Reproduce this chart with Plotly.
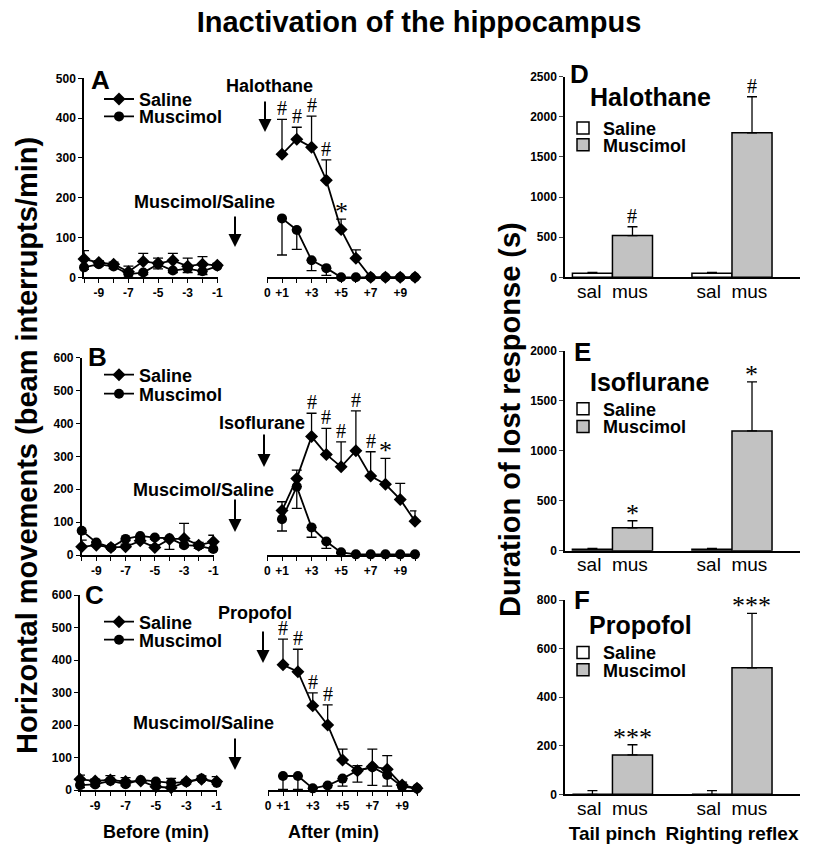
import plotly.graph_objects as go

W, H = 826, 845
FONT = "Liberation Sans"
SERIF = "Liberation Serif"

# ---------------- data ----------------
before_x = [-10, -9, -8, -7, -6, -5, -4, -3, -2, -1]
after_x = [1, 2, 3, 4, 5, 6, 7, 8, 9, 10]
before_ticktext = ["", "-9", "", "-7", "", "-5", "", "-3", "", "-1"]
after_tickvals = [0, 1, 2, 3, 4, 5, 6, 7, 8, 9, 10]
after_ticktext = ["0", "+1", "", "+3", "", "+5", "", "+7", "", "+9", ""]

# Panel A (halothane)
A_sal_before = [46, 37, 33, 14, 40, 35, 42, 28, 33, 30]
A_sal_before_err = [21, 5, 5, 14, 20, 13, 18, 20, 19, 5]
A_mus_before = [25, 33, 27, 8, 12, 33, 17, 22, 15, 28]
A_mus_before_err = [5, 5, 5, 8, 5, 12, 5, 10, 8, 5]
A_sal_after = [309, 347, 327, 244, 120, 48, 0, 0, 0, 0]
A_sal_after_err = [88, 30, 78, 51, 26, 21, 0, 0, 0, 0]
A_mus_after = [148, 119, 43, 23, 0, 0, 0, 0, 0, 0]
A_mus_after_err = [92, 49, 26, 18, 0, 0, 0, 0, 0, 0]
A_sig = ["#", "#", "#", "#", "*", "", "", "", "", ""]

# Panel B (isoflurane)
B_sal_before = [25, 30, 23, 25, 43, 23, 48, 50, 30, 40]
B_sal_before_err = [20, 10, 5, 8, 8, 8, 5, 46, 8, 20]
B_mus_before = [74, 38, 23, 49, 58, 53, 51, 30, 28, 18]
B_mus_before_err = [5, 10, 5, 5, 5, 5, 34, 5, 8, 5]
B_sal_after = [135, 233, 360, 306, 268, 317, 240, 215, 169, 103]
B_sal_after_err = [27, 25, 71, 79, 76, 121, 74, 79, 49, 31]
B_mus_after = [109, 208, 84, 41, 8, 2, 2, 2, 2, 2]
B_mus_after_err = [36, 66, 30, 21, 3, 0, 0, 0, 0, 0]
B_sig = ["", "", "#", "#", "#", "#", "#", "*", "", ""]

# Panel C (propofol)
C_sal_before = [33, 28, 31, 26, 28, 10, 7, 26, 33, 26]
C_sal_before_err = [13, 5, 13, 12, 5, 5, 29, 5, 10, 15]
C_mus_before = [15, 17, 28, 18, 31, 26, 22, 24, 35, 22]
C_mus_before_err = [8, 5, 5, 5, 5, 5, 10, 5, 5, 5]
C_sal_after = [385, 364, 259, 200, 92, 59, 72, 64, 15, 5]
C_sal_after_err = [79, 69, 40, 62, 34, 16, 54, 42, 9, 0]
C_mus_after = [43, 43, 5, 14, 35, 60, 70, 46, 10, 5]
C_mus_after_err = [41, 41, 0, 0, 23, 36, 56, 34, 0, 0]
C_sig = ["#", "#", "#", "#", "", "", "", "", "", ""]

# Bar panels (duration of lost response, s)
groups = ["Tail pinch", "Righting reflex"]
D_sal = [50, 50]
D_sal_err = [10, 10]
D_mus = [520, 1800]
D_mus_err = [110, 450]
D_sig = ["#", "#"]
E_sal = [15, 15]
E_sal_err = [8, 8]
E_mus = [230, 1200]
E_mus_err = [70, 490]
E_sig = ["*", "*"]
F_sal = [0, 0]
F_sal_err = [15, 15]
F_mus = [162, 521]
F_mus_err = [42, 224]
F_sig = ["***", "***"]

# ---------------- helpers ----------------
def px(p):
    return p / W


def py(p):
    return 1 - p / H


def tref(kind, i):
    return kind if i == 1 else f"{kind}{i}"


def lref(kind, i):
    return f"{kind}axis" if i == 1 else f"{kind}axis{i}"


def legname(i):
    return "legend" if i == 1 else f"legend{i}"


fig = go.Figure()
layout = dict(annotations=[])
ann = layout["annotations"]

BOLD = dict(family=FONT, color="black", weight="bold")


def label(xp, yp, text, size, **kw):
    d = dict(x=px(xp), y=py(yp), xref="paper", yref="paper", text=text, showarrow=False,
             xanchor="center", yanchor="middle", font=dict(size=size, **BOLD))
    d.update(kw)
    ann.append(d)


line_panels = [
    dict(letter="A", drug="Halothane", ymax=500,
         sb=A_sal_before, sbe=A_sal_before_err, mb=A_mus_before, mbe=A_mus_before_err,
         sa=A_sal_after, sae=A_sal_after_err, ma=A_mus_after, mae=A_mus_after_err, sig=A_sig),
    dict(letter="B", drug="Isoflurane", ymax=600,
         sb=B_sal_before, sbe=B_sal_before_err, mb=B_mus_before, mbe=B_mus_before_err,
         sa=B_sal_after, sae=B_sal_after_err, ma=B_mus_after, mae=B_mus_after_err, sig=B_sig),
    dict(letter="C", drug="Propofol", ymax=600,
         sb=C_sal_before, sbe=C_sal_before_err, mb=C_mus_before, mbe=C_mus_before_err,
         sa=C_sal_after, sae=C_sal_after_err, ma=C_mus_after, mae=C_mus_after_err, sig=C_sig),
]

# pixel geometry (style only)
line_geom = [
    dict(y0=277.3, ytop=78.3, bl=84, bm1=217.3, a1=282, a10=415,
         letter=(100, 80), drug=(269, 86), drug_arrow=(265, 100, 132),
         ms=(204, 202), ms_arrow=(235, 215, 247), leg=(99.3, 116.7)),
    dict(y0=555, ytop=357.7, bl=81.7, bm1=213.3, a1=282, a10=415,
         letter=(97, 357), drug=(262, 423), drug_arrow=(264, 433, 467),
         ms=(203, 490), ms_arrow=(235, 498, 532), leg=(375, 394)),
    dict(y0=790, ytop=595, bl=80, bm1=216.7, a1=283, a10=417,
         letter=(94, 595), drug=(255, 613), drug_arrow=(263, 630, 663),
         ms=(203, 723), ms_arrow=(235, 737, 770), leg=(622, 640)),
]

LEG_TEXT_X = 139
LEG_OFFSET = 40


def err(arr, up=True):
    zeros = [0] * len(arr)
    return dict(type="data", symmetric=False,
                array=arr if up else zeros,
                arrayminus=zeros if up else arr,
                color="black", thickness=1.3, width=5)


def sigfont(s):
    return dict(family=SERIF, size=(20 if s == "#" else 26), color="black")


for k, (p, g) in enumerate(zip(line_panels, line_geom)):
    xb, xa, yi = 2 * k + 1, 2 * k + 2, k + 1
    lsal, lmus = 2 * k + 1, 2 * k + 2
    common = dict(mode="lines+markers", line=dict(color="black", width=1.8),
                  cliponaxis=False, yaxis=tref("y", yi))
    sal_m = dict(symbol="diamond", size=10, color="black")
    mus_m = dict(symbol="circle", size=10, color="black")
    fig.add_trace(go.Scatter(x=before_x, y=p["sb"], marker=sal_m, error_y=err(p["sbe"], True),
                             xaxis=tref("x", xb), showlegend=False, name="Saline", **common))
    fig.add_trace(go.Scatter(x=before_x, y=p["mb"], marker=mus_m, error_y=err(p["mbe"], False),
                             xaxis=tref("x", xb), showlegend=False, name="Muscimol", **common))
    fig.add_trace(go.Scatter(x=after_x, y=p["sa"], marker=sal_m, error_y=err(p["sae"], True),
                             xaxis=tref("x", xa), name="Saline", legend=legname(lsal), **common))
    fig.add_trace(go.Scatter(x=after_x, y=p["ma"], marker=mus_m, error_y=err(p["mae"], False),
                             xaxis=tref("x", xa), name="Muscimol", legend=legname(lmus), **common))

    ub = (g["bm1"] - g["bl"]) / 9
    ua = (g["a10"] - g["a1"]) / 9
    ydom = [py(g["y0"]), py(g["ytop"])]
    axis_common = dict(showline=True, linecolor="black", linewidth=1.5, ticks="outside",
                       ticklen=4, tickwidth=1.2, tickcolor="black", showgrid=False,
                       zeroline=False, automargin=False, tickfont=dict(size=12, **BOLD))
    layout[lref("x", xb)] = dict(domain=[px(g["bl"]), px(g["bm1"] + 0.05 * ub)],
                                 range=[-10, -0.95], anchor=tref("y", yi),
                                 tickvals=before_x, ticktext=before_ticktext, **axis_common)
    layout[lref("x", xa)] = dict(domain=[px(g["a1"] - ua), px(g["a10"] + 0.1 * ua)],
                                 range=[0, 10.1], anchor=tref("y", yi),
                                 tickvals=after_tickvals, ticktext=after_ticktext, **axis_common)
    layout[lref("y", yi)] = dict(domain=ydom, range=[0, p["ymax"]], anchor=tref("x", xb),
                                 tickvals=list(range(0, p["ymax"] + 1, 100)), **axis_common)

    for li, yc in ((lsal, g["leg"][0]), (lmus, g["leg"][1])):
        layout[legname(li)] = dict(x=px(LEG_TEXT_X - LEG_OFFSET), y=py(yc), xanchor="left",
                                   yanchor="middle", bgcolor="rgba(0,0,0,0)", borderwidth=0,
                                   font=dict(size=18, **BOLD))

    # significance marks from data
    for xv, yv, ev, s in zip(after_x, p["sa"], p["sae"], p["sig"]):
        if s:
            ann.append(dict(x=xv, y=yv + ev, xref=tref("x", xa), yref=tref("y", yi),
                            text=s, showarrow=False, xanchor="center", yanchor="bottom",
                            yshift=(-2 if s == "#" else -9), font=sigfont(s)))

    label(*g["letter"], p["letter"], 26)
    label(*g["drug"], p["drug"], 18)
    label(*g["ms"], "Muscimol/Saline", 18)
    for (ax_, ytail, yhead) in (g["drug_arrow"], g["ms_arrow"]):
        ann.append(dict(x=px(ax_), y=py(yhead), xref="paper", yref="paper", text="",
                        showarrow=True, ax=0, ay=-(yhead - ytail), arrowhead=2,
                        arrowsize=1.3, arrowwidth=2, arrowcolor="black"))

label(156, 832, "Before (min)", 18)
label(333, 832, "After (min)", 18)

# ---------------- bar panels ----------------
bar_panels = [
    dict(letter="D", drug="Halothane", ymax=2500, dt=500, sal=D_sal, sale=D_sal_err,
         mus=D_mus, muse=D_mus_err, sig=D_sig),
    dict(letter="E", drug="Isoflurane", ymax=2000, dt=500, sal=E_sal, sale=E_sal_err,
         mus=E_mus, muse=E_mus_err, sig=E_sig),
    dict(letter="F", drug="Propofol", ymax=800, dt=200, sal=F_sal, sale=F_sal_err,
         mus=F_mus, muse=F_mus_err, sig=F_sig),
]
bar_geom = [
    dict(y0=277.3, ytop=76.7, letter=(579, 74), drug=(650, 97), leg=(128.3, 145), lower=False),
    dict(y0=550.7, ytop=351, letter=(582, 352), drug=(650, 382), leg=(409, 426.7), lower=False),
    dict(y0=794.3, ytop=600, letter=(582, 600), drug=(640, 625), leg=(652.7, 670), lower=True),
]
BAR_LEFT, BAR_RIGHT = 565, 800
BAR_LEG_TEXT_X = 603
NB = "\u00a0\u00a0"

for j, (p, g) in enumerate(zip(bar_panels, bar_geom)):
    xi, yi = 7 + j, 4 + j
    lsal, lmus = 7 + 2 * j, 8 + 2 * j
    fig.add_trace(go.Bar(x=groups, y=p["sal"], name="Saline", legend=legname(lsal),
                         marker=dict(color="white", line=dict(color="black", width=1.5)),
                         error_y=err(p["sale"], True), cliponaxis=False,
                         xaxis=tref("x", xi), yaxis=tref("y", yi)))
    fig.add_trace(go.Bar(x=groups, y=p["mus"], name="Muscimol", legend=legname(lmus),
                         marker=dict(color="#c2c2c2", line=dict(color="black", width=1.5)),
                         error_y=err(p["muse"], True), cliponaxis=False,
                         xaxis=tref("x", xi), yaxis=tref("y", yi)))
    if g["lower"]:
        ttext = [f"sal{NB}mus<br><b>{grp}</b>" for grp in groups]
    else:
        ttext = [f"sal{NB}mus" for grp in groups]
    layout[lref("x", xi)] = dict(domain=[px(BAR_LEFT), px(BAR_RIGHT)], range=[-0.397, 1.569],
                                 anchor=tref("y", yi), showline=True, linecolor="black",
                                 linewidth=1.5, ticks="", showgrid=False, zeroline=False,
                                 automargin=False, tickvals=groups, ticktext=ttext,
                                 ticklabelstandoff=-4,
                                 tickfont=dict(family=FONT, size=19, color="black"))
    layout[lref("y", yi)] = dict(domain=[py(g["y0"]), py(g["ytop"])], range=[0, p["ymax"]],
                                 anchor=tref("x", xi), showline=True, linecolor="black",
                                 linewidth=1.5, ticks="outside", ticklen=4, tickwidth=1.2,
                                 showgrid=False, zeroline=False, automargin=False,
                                 tickvals=list(range(0, p["ymax"] + 1, p["dt"])),
                                 tickfont=dict(size=12, **BOLD))
    for li, yc in ((lsal, g["leg"][0]), (lmus, g["leg"][1])):
        layout[legname(li)] = dict(x=px(BAR_LEG_TEXT_X - LEG_OFFSET), y=py(yc), xanchor="left",
                                   yanchor="middle", bgcolor="rgba(0,0,0,0)", borderwidth=0,
                                   font=dict(size=18, **BOLD))
    for grp, yv, ev, s in zip(groups, p["mus"], p["muse"], p["sig"]):
        ann.append(dict(x=grp, y=yv + ev, xref=tref("x", xi), yref=tref("y", yi), text=s,
                        showarrow=False, xshift=20, xanchor="center", yanchor="bottom",
                        yshift=(-2 if s == "#" else -9), font=sigfont(s)))
    label(*g["letter"], p["letter"], 26)
    label(*g["drug"], p["drug"], 25)

# big axis labels
label(27, 446, "Horizontal movements (beam interrupts/min)", 29, textangle=-90)
label(510, 420, "Duration of lost response (s)", 29, textangle=-90)

fig.update_layout(
    template="none",
    width=W, height=H, autosize=False,
    margin=dict(l=0, r=0, t=0, b=0, pad=0),
    paper_bgcolor="white", plot_bgcolor="white",
    bargap=0.33, bargroupgap=0, barmode="group",
    title=dict(text="Inactivation of the hippocampus", x=px(419), y=py(22),
               xanchor="center", yanchor="middle", xref="paper", yref="paper",
               automargin=False, font=dict(size=29, **BOLD)),
    font=dict(family=FONT, color="black"),
    **layout,
)

fig.write_html("out.html", config={"displayModeBar": False},
               post_script="document.body.style.margin='0';document.body.style.overflow='hidden';")
